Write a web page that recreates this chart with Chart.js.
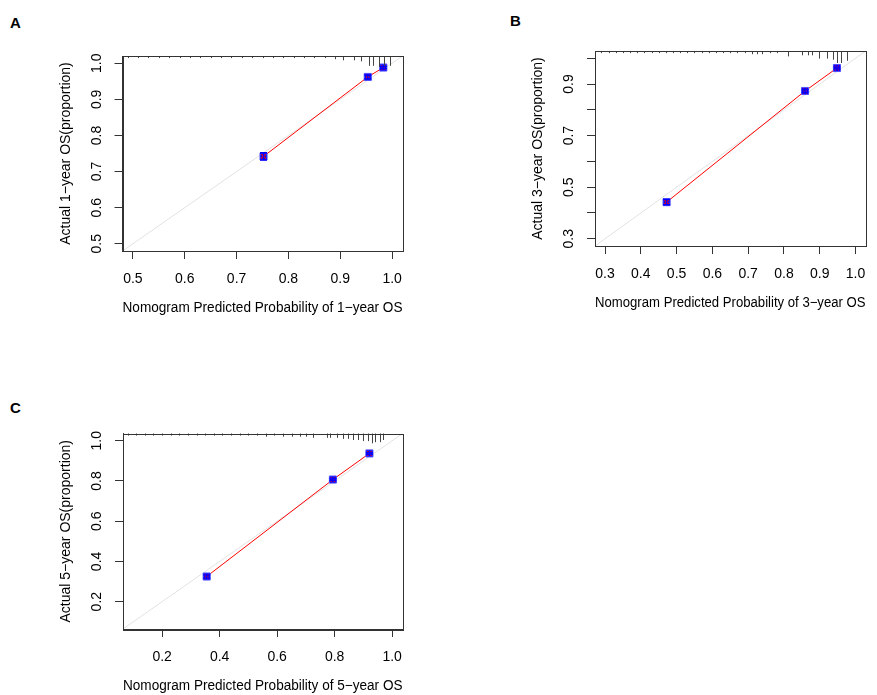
<!DOCTYPE html>
<html>
<head>
<meta charset="utf-8">
<script src="https://cdn.jsdelivr.net/npm/chart.js@4.4.1/dist/chart.umd.min.js"></script>
<style>
  html, body { margin: 0; padding: 0; background: #fff; }
  body { width: 877px; height: 695px; position: relative; overflow: hidden; font-family: "Liberation Sans", Arial, sans-serif; }
  .panel { position: absolute; }
  .tag { position: absolute; font-weight: bold; font-size: 15px; line-height: 16px; color: #000; }
</style>
</head>
<body>
<div class="tag" style="left:10px;top:15px">A</div>
<div class="tag" style="left:510px;top:13px">B</div>
<div class="tag" style="left:10px;top:400px">C</div>

<canvas id="chartA" class="panel" width="430" height="330" style="left:0;top:0"></canvas>
<canvas id="chartB" class="panel" width="405" height="330" style="left:472px;top:0"></canvas>
<canvas id="chartC" class="panel" width="430" height="317" style="left:0;top:378px"></canvas>

<script>
// --- data

// A: 1-year
const rangeA = [0.48, 1.02];
const xTicksA = [0.5, 0.6, 0.7, 0.8, 0.9, 1.0];
const yTicksA = [0.5, 0.6, 0.7, 0.8, 0.9, 1.0];
const yLabelsA = [0.5, 0.6, 0.7, 0.8, 0.9, 1.0];
const predA = [0.752, 0.953, 0.983];
const obsA  = [0.742, 0.962, 0.988];
const lowA  = [0.732, 0.957, 0.985];
const highA = [0.752, 0.967, 0.991];
const rugA  = [0.49, 0.51, 0.53, 0.55, 0.57, 0.59, 0.61, 0.63, 0.65, 0.67, 0.69, 0.71, 0.73, 0.75, 0.77, 0.79, 0.81, 0.83, 0.85, 0.87, 0.89, 0.906, 0.926, 0.939, 0.955, 0.964, 0.974, 0.984, 0.995];
const rugNA = [1, 1, 1, 1, 1, 1, 1, 1, 1, 1, 1, 1, 1, 1, 1, 1, 1, 1, 1, 1, 2, 3, 3, 4, 8, 8, 9, 9, 8];

// B: 3-year
const rangeB = [0.272, 1.028];
const xTicksB = [0.3, 0.4, 0.5, 0.6, 0.7, 0.8, 0.9, 1.0];
const yTicksB = [0.3, 0.4, 0.5, 0.6, 0.7, 0.8, 0.9, 1.0];
const yLabelsB = [0.3, 0.5, 0.7, 0.9];
const predB = [0.472, 0.859, 0.948];
const obsB  = [0.442, 0.873, 0.962];
const lowB  = [0.432, 0.868, 0.958];
const highB = [0.452, 0.878, 0.966];
const rugB  = [0.29, 0.31, 0.33, 0.35, 0.37, 0.39, 0.41, 0.43, 0.45, 0.47, 0.49, 0.51, 0.53, 0.55, 0.57, 0.59, 0.61, 0.63, 0.65, 0.67, 0.69, 0.71, 0.725, 0.74, 0.76, 0.78, 0.810, 0.850, 0.867, 0.878, 0.899, 0.919, 0.938, 0.949, 0.959, 0.976];
const rugNB = [1, 1, 1, 1, 1, 1, 1, 1, 1, 1, 1, 1, 1, 1, 1, 1, 1, 1, 1, 1, 1, 2, 2, 2, 1, 1, 4, 3, 3, 3, 6, 6, 7, 10, 10, 8];

// C: 5-year
const rangeC = [0.064, 1.036];
const xTicksC = [0.2, 0.4, 0.6, 0.8, 1.0];
const yTicksC = [0.2, 0.4, 0.6, 0.8, 1.0];
const yLabelsC = [0.2, 0.4, 0.6, 0.8, 1.0];
const predC = [0.355, 0.794, 0.921];
const obsC  = [0.325, 0.807, 0.937];
const lowC  = [0.318, 0.802, 0.933];
const highC = [0.332, 0.812, 0.941];
const rugC  = [0.08, 0.11, 0.14, 0.17, 0.20, 0.23, 0.26, 0.29, 0.32, 0.35, 0.38, 0.41, 0.44, 0.47, 0.50, 0.53, 0.56, 0.59, 0.62, 0.65, 0.68, 0.70, 0.725, 0.774, 0.784, 0.809, 0.830, 0.847, 0.864, 0.882, 0.899, 0.917, 0.930, 0.941, 0.958, 0.969];
const rugNC = [1, 1, 1, 1, 1, 1, 1, 1, 1, 1, 1, 1, 1, 1, 1, 1, 2, 1, 2, 2, 2, 2, 3, 3, 3, 3, 4, 4, 5, 5, 6, 6, 8, 7, 7, 5];

const FONT = "'Liberation Sans', Arial, sans-serif";
const FSIZE = 14;
const INK = "#333";

// --- plugins: frame, rug along the top, error bars
const framePlugin = {
  id: "frame",
  afterDraw(chart) {
    const { ctx, chartArea: a } = chart;
    ctx.save();
    ctx.strokeStyle = INK;
    ctx.lineWidth = 1;
    ctx.strokeRect(Math.round(a.left) + 0.5, Math.round(a.top) + 0.5, Math.round(a.right - a.left), Math.round(a.bottom - a.top));
    ctx.restore();
  }
};

const rugPlugin = {
  id: "rug",
  afterDatasetsDraw(chart, args, opts) {
    if (!opts.at) return;
    const { ctx, chartArea, scales } = chart;
    ctx.save();
    ctx.strokeStyle = "#444";
    ctx.lineWidth = 1;
    opts.at.forEach((v, i) => {
      const x = Math.round(scales.x.getPixelForValue(v)) + 0.5;
      ctx.beginPath();
      ctx.moveTo(x, chartArea.top);
      ctx.lineTo(x, chartArea.top + 1 + opts.n[i] * 1.1);
      ctx.stroke();
    });
    ctx.restore();
  }
};

const errPlugin = {
  id: "errbars",
  afterDatasetsDraw(chart, args, opts) {
    if (!opts.x) return;
    const { ctx, scales } = chart;
    ctx.save();
    ctx.strokeStyle = "#0000ff";
    ctx.lineWidth = 1.5;
    opts.x.forEach((v, i) => {
      const x = scales.x.getPixelForValue(v);
      const y1 = scales.y.getPixelForValue(opts.lo[i]);
      const y2 = scales.y.getPixelForValue(opts.hi[i]);
      ctx.beginPath();
      ctx.moveTo(x, y1); ctx.lineTo(x, y2);
      ctx.moveTo(x - 3.5, y1); ctx.lineTo(x + 3.5, y1);
      ctx.moveTo(x - 3.5, y2); ctx.lineTo(x + 3.5, y2);
      ctx.stroke();
    });
    ctx.restore();
  }
};

function labelIn(list) {
  return v => list.some(l => Math.abs(l - v) < 1e-9) ? Number(v).toFixed(1) : "";
}

function makePanel(id, p) {
  const pts = p.pred.map((x, i) => ({ x, y: p.obs[i] }));
  const [lo, hi] = p.range;
  return new Chart(document.getElementById(id), {
    type: "scatter",
    data: {
      datasets: [
        { data: pts, pointStyle: "crossRot", pointRadius: 3, borderColor: "#ff0000", borderWidth: 1.5, backgroundColor: "#ff0000" },
        { data: pts, pointStyle: "rect", pointRadius: 5, borderColor: "#5050ff", borderWidth: 1, backgroundColor: "#0000ff" },
        { data: pts, showLine: true, pointRadius: 0, borderColor: "#ff0000", borderWidth: 1 },
        { data: [{ x: lo, y: lo }, { x: hi, y: hi }], showLine: true, pointRadius: 0, borderColor: "#e2e2e2", borderWidth: 1 }
      ]
    },
    options: {
      responsive: false,
      animation: false,
      devicePixelRatio: 1,
      layout: { padding: { top: p.top, right: p.right, left: 0, bottom: 0 } },
      plugins: {
        legend: { display: false },
        tooltip: { enabled: false },
        rug: { at: p.rug, n: p.rugN },
        errbars: { x: p.pred, lo: p.low, hi: p.high }
      },
      scales: {
        x: {
          type: "linear", min: lo, max: hi,
          afterBuildTicks: s => { s.ticks = p.xTicks.map(value => ({ value })); },
          afterFit: s => { s.height = p.xh; },
          grid: { drawOnChartArea: false, tickLength: 8, color: INK },
          border: { color: INK },
          ticks: { color: "#000", padding: 11.5, font: { size: FSIZE, family: FONT }, callback: v => Number(v).toFixed(1) },
          title: { display: true, text: p.xTitle, color: "#000", font: { size: FSIZE, family: FONT }, padding: { top: 0, bottom: p.tb } }
        },
        y: {
          type: "linear", min: lo, max: hi,
          afterBuildTicks: s => { s.ticks = p.yTicks.map(value => ({ value })); },
          afterFit: s => { s.width = p.yw; },
          grid: { drawOnChartArea: false, tickLength: 8, color: INK },
          border: { color: INK },
          ticks: { color: "#000", padding: 8, minRotation: 90, maxRotation: 90, crossAlign: "center", font: { size: FSIZE, family: FONT }, callback: labelIn(p.yLabels) },
          title: { display: true, text: p.yTitle, color: "#000", font: { size: FSIZE, family: FONT }, padding: { top: 57.5, bottom: 0 } }
        }
      }
    },
    plugins: [framePlugin, rugPlugin, errPlugin]
  });
}

makePanel("chartA", {
  range: rangeA, xTicks: xTicksA, yTicks: yTicksA, yLabels: yLabelsA,
  pred: predA, obs: obsA, low: lowA, high: highA, rug: rugA, rugN: rugNA,
  top: 56, right: 27.5, yw: 122.5, xh: 79, tb: 13.5,
  xTitle: "Nomogram Predicted Probability of 1\u2212year OS",
  yTitle: "Actual 1\u2212year OS(proportion)"
});

makePanel("chartB", {
  range: rangeB, xTicks: xTicksB, yTicks: yTicksB, yLabels: yLabelsB,
  pred: predB, obs: obsB, low: lowB, high: highB, rug: rugB, rugN: rugNB,
  top: 51, right: 5, yw: 123, xh: 84, tb: 18.5,
  xTitle: "Nomogram Predicted Probability of 3\u2212year OS",
  yTitle: "Actual 3\u2212year OS(proportion)"
});

makePanel("chartC", {
  range: rangeC, xTicks: xTicksC, yTicks: yTicksC, yLabels: yLabelsC,
  pred: predC, obs: obsC, low: lowC, high: highC, rug: rugC, rugN: rugNC,
  top: 55.5, right: 27.5, yw: 123, xh: 66, tb: 0.5,
  xTitle: "Nomogram Predicted Probability of 5\u2212year OS",
  yTitle: "Actual 5\u2212year OS(proportion)"
});
</script>
</body>
</html>
